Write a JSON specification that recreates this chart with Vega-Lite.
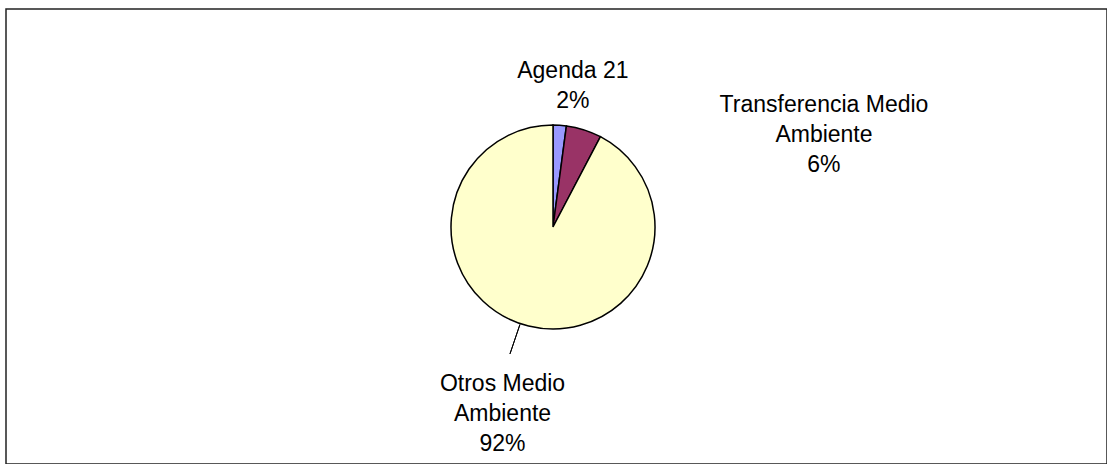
{
  "$schema": "https://vega.github.io/schema/vega-lite/v6.json",
  "width": 1101,
  "height": 455,
  "autosize": {"type": "none"},
  "padding": {"left": 6, "top": 9, "right": 0, "bottom": 0},
  "background": "#ffffff",
  "view": {"stroke": "#222222", "strokeWidth": 1.5, "fill": "#ffffff"},
  "config": {"font": "Liberation Sans"},
  "data": {
    "values": [
      {"category": "Agenda 21", "value": 2.1},
      {"category": "Transferencia Medio Ambiente", "value": 5.6},
      {"category": "Otros Medio Ambiente", "value": 92.3}
    ]
  },
  "transform": [
    {"calculate": "indexof(['Agenda 21','Transferencia Medio Ambiente','Otros Medio Ambiente'], datum.category)", "as": "ord"},
    {"joinaggregate": [{"op": "sum", "field": "value", "as": "total"}]},
    {"stack": "value", "groupby": [], "sort": [{"field": "ord", "order": "ascending"}], "as": ["v0", "v1"]},
    {"calculate": "(datum.v0 + datum.v1) / 2", "as": "mid"},
    {"calculate": "replace(datum.category, ' Ambiente', '\\nAmbiente') + '\\n' + format(datum.value / datum.total, '.0%')", "as": "label"}
  ],
  "layer": [
    {
      "mark": {"type": "arc", "radius": 102, "stroke": "#000000", "strokeWidth": 1.5},
      "encoding": {
        "x": {"value": 547},
        "y": {"value": 218},
        "theta": {"field": "v0", "type": "quantitative", "scale": {"domain": [0, 100], "nice": false}},
        "theta2": {"field": "v1"},
        "color": {
          "field": "category",
          "type": "nominal",
          "scale": {
            "domain": ["Agenda 21", "Transferencia Medio Ambiente", "Otros Medio Ambiente"],
            "range": ["#9999ff", "#993366", "#ffffcc"]
          },
          "legend": null
        }
      }
    },
    {
      "transform": [{"filter": "datum.category === 'Otros Medio Ambiente'"}],
      "mark": {"type": "arc", "radius": 103, "radius2": 134, "thetaOffset": 0.085, "theta2Offset": 0.085, "stroke": "#000000", "strokeWidth": 1, "fill": null},
      "encoding": {
        "x": {"value": 547},
        "y": {"value": 218},
        "theta": {"field": "mid", "type": "quantitative"},
        "theta2": {"field": "mid"}
      }
    },
    {
      "transform": [{"filter": "datum.category === 'Agenda 21'"}],
      "mark": {"type": "text", "radius": 157, "thetaOffset": 0.061, "fontSize": 23, "lineHeight": 30, "lineBreak": "\n", "align": "center", "baseline": "middle", "color": "#000000"},
      "encoding": {
        "x": {"value": 547},
        "y": {"value": 218},
        "theta": {"field": "mid", "type": "quantitative"},
        "text": {"field": "label"}
      }
    },
    {
      "transform": [{"filter": "datum.category === 'Transferencia Medio Ambiente'"}],
      "mark": {"type": "text", "radius": 297, "thetaOffset": 0.841, "fontSize": 23, "lineHeight": 30, "lineBreak": "\n", "align": "center", "baseline": "middle", "color": "#000000"},
      "encoding": {
        "x": {"value": 547},
        "y": {"value": 218},
        "theta": {"field": "mid", "type": "quantitative"},
        "text": {"field": "label"}
      }
    },
    {
      "transform": [{"filter": "datum.category === 'Otros Medio Ambiente'"}],
      "mark": {"type": "text", "radius": 165, "thetaOffset": 0.069, "fontSize": 23, "lineHeight": 30, "lineBreak": "\n", "align": "center", "baseline": "middle", "color": "#000000"},
      "encoding": {
        "x": {"value": 547},
        "y": {"value": 218},
        "theta": {"field": "mid", "type": "quantitative"},
        "text": {"field": "label"}
      }
    }
  ]
}
